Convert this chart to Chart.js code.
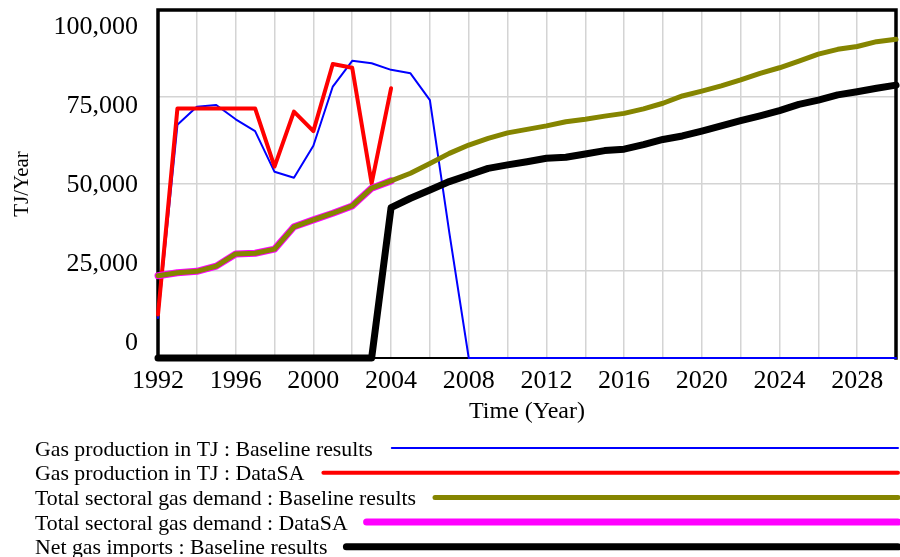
<!DOCTYPE html>
<html>
<head>
<meta charset="utf-8">
<script src="https://cdn.jsdelivr.net/npm/chart.js@4.4.1/dist/chart.umd.min.js"></script>
<style>
  html, body { margin: 0; padding: 0; background: #ffffff; }
  #wrap { width: 900px; height: 557px; position: relative; }
</style>
</head>
<body>
<div id="wrap"><canvas id="c" width="900" height="557"></canvas></div>
<script>
// ---------------- DATA ----------------
const years = [1992,1993,1994,1995,1996,1997,1998,1999,2000,2001,2002,2003,2004,2005,2006,2007,2008,2009,2010,2011,2012,2013,2014,2015,2016,2017,2018,2019,2020,2021,2022,2023,2024,2025,2026,2027,2028,2029,2030];

const gasProductionBaseline = [11500,67000,72200,72700,68600,65200,53500,51800,61000,78000,85400,84700,82800,81800,74100,36000,0,0,0,0,0,0,0,0,0,0,0,0,0,0,0,0,0,0,0,0,0,0,0];

const gasProductionDataSA = [12500,71700,71700,71700,71700,71700,55000,70800,65200,84500,83400,50200,77500,null,null,null,null,null,null,null,null,null,null,null,null,null,null,null,null,null,null,null,null,null,null,null,null,null,null];

const demandBaseline = [23650,24500,24900,26400,29900,30100,31300,37700,39700,41600,43700,48800,50900,53100,55900,58800,61200,63100,64700,65700,66700,67900,68600,69500,70300,71600,73200,75300,76700,78200,79900,81800,83400,85300,87300,88700,89500,90900,91600];

const demandDataSA = [23650,24500,24900,26400,29900,30100,31300,37700,39700,41600,43700,48800,50900,null,null,null,null,null,null,null,null,null,null,null,null,null,null,null,null,null,null,null,null,null,null,null,null,null,null];

const netImportsBaseline = [0,0,0,0,0,0,0,0,0,0,0,0,43200,45900,48300,50700,52600,54500,55500,56400,57400,57700,58600,59600,60000,61300,62800,63800,65200,66700,68200,69600,71100,72900,74100,75600,76500,77500,78400];

const seriesLabels = [
  "Gas production in TJ : Baseline results",
  "Gas production in TJ : DataSA",
  "Total sectoral gas demand : Baseline results",
  "Total sectoral gas demand : DataSA",
  "Net gas imports : Baseline results"
];

const yTickValues = [0, 25000, 50000, 75000, 100000];
const xLabelYears = [1992,1996,2000,2004,2008,2012,2016,2020,2024,2028];
const xAxisTitle = "Time (Year)";
const yAxisTitle = "TJ/Year";

// ---------------- BUILD ----------------
const toXY = arr => years.map((yr, i) => ({ x: yr, y: arr[i] }));
const SERIF = '"Liberation Serif", "Times New Roman", serif';

function ds(label, arr, color, width, order) {
  return {
    label, data: toXY(arr), borderColor: color, backgroundColor: color,
    borderWidth: width, pointRadius: 0, pointHoverRadius: 0, tension: 0,
    fill: false, spanGaps: false, order, clip: false,
    borderCapStyle: 'round', borderJoinStyle: 'round'
  };
}

const datasets = [
  ds(seriesLabels[0], gasProductionBaseline, '#0000ff', 2, 4),
  ds(seriesLabels[1], gasProductionDataSA, '#ff0000', 4, 3),
  ds(seriesLabels[2], demandBaseline, '#858500', 5, 1),
  ds(seriesLabels[3], demandDataSA, '#ff00ff', 7, 2),
  ds(seriesLabels[4], netImportsBaseline, '#000000', 7, 0)
];

const fmt = v => v.toLocaleString('en-US');

const framePlugin = {
  id: 'frame',
  beforeDatasetsDraw(chart) {
    const { ctx, chartArea: a } = chart;
    ctx.save();
    ctx.strokeStyle = '#000';
    ctx.lineWidth = 2;
    ctx.beginPath();
    ctx.moveTo(a.left, a.bottom); ctx.lineTo(a.right, a.bottom);
    ctx.stroke();
    ctx.lineWidth = 3.5;
    ctx.lineCap = 'square';
    ctx.beginPath();
    ctx.moveTo(a.left, a.bottom); ctx.lineTo(a.left, a.top);
    ctx.lineTo(a.right, a.top); ctx.lineTo(a.right, a.bottom);
    ctx.stroke();
    ctx.restore();
  },
  afterDraw(chart) {
    const { ctx, chartArea: a } = chart;
    const ys = chart.scales.y;
    ctx.save();
    // y tick labels, spread evenly inside the axis extent (Vensim style)
    ctx.fillStyle = '#000';
    ctx.font = '26px ' + SERIF;
    ctx.textAlign = 'right';
    ctx.textBaseline = 'middle';
    const topY = a.top + 17, botY = a.bottom - 15;
    yTickValues.forEach(v => {
      const frac = (v - ys.min) / (ys.max - ys.min);
      const y = botY - frac * (botY - topY);
      ctx.fillText(fmt(v), a.left - 20, y);
    });
    // legend rows: text followed by a line to the right edge
    ctx.font = '21.8px ' + SERIF;
    ctx.textAlign = 'left';
    ctx.textBaseline = 'alphabetic';
    const x0 = 35, firstY = 448, step = 24.7;
    chart.data.datasets.forEach((d, i) => {
      const ly = firstY + i * step;
      ctx.fillStyle = '#000';
      ctx.fillText(d.label, x0, ly + 7.5);
      const w = ctx.measureText(d.label).width;
      ctx.strokeStyle = d.borderColor;
      ctx.lineWidth = d.borderWidth;
      ctx.lineCap = 'round';
      ctx.beginPath();
      ctx.moveTo(x0 + w + 19, ly);
      ctx.lineTo(chart.width - 2, ly);
      ctx.stroke();
    });
    ctx.restore();
  }
};

new Chart(document.getElementById('c'), {
  type: 'line',
  data: { datasets },
  plugins: [framePlugin],
  options: {
    responsive: false,
    animation: false,
    devicePixelRatio: 1,
    layout: { padding: { top: 10, right: 4, left: 0, bottom: 0 } },
    plugins: { legend: { display: false }, tooltip: { enabled: false } },
    scales: {
      x: {
        type: 'linear', min: years[0], max: years[years.length - 1],
        border: { display: false },
        grid: { color: '#d4d4d4', lineWidth: 1.5, drawTicks: false },
        ticks: {
          stepSize: 2, autoSkip: false, maxRotation: 0, padding: 8,
          color: '#000', font: { family: SERIF, size: 26 },
          callback: v => xLabelYears.includes(v) ? String(v) : ''
        },
        title: {
          display: true, text: xAxisTitle, color: '#000',
          font: { family: SERIF, size: 24 }, padding: { top: 0, bottom: 131 }
        },
        afterFit: s => { s.height = 199; s.paddingLeft = 0; s.paddingRight = 0; }
      },
      y: {
        min: 0, max: 100000,
        border: { display: false },
        grid: { color: '#d4d4d4', lineWidth: 1.5, drawTicks: false },
        ticks: { display: false, stepSize: 25000 },
        title: {
          display: true, text: yAxisTitle, color: '#000',
          font: { family: SERIF, size: 21 }, padding: { top: 10, bottom: 0 }
        },
        afterFit: s => { s.width = 158; s.paddingTop = 0; s.paddingBottom = 0; }
      }
    }
  }
});
</script>
</body>
</html>
